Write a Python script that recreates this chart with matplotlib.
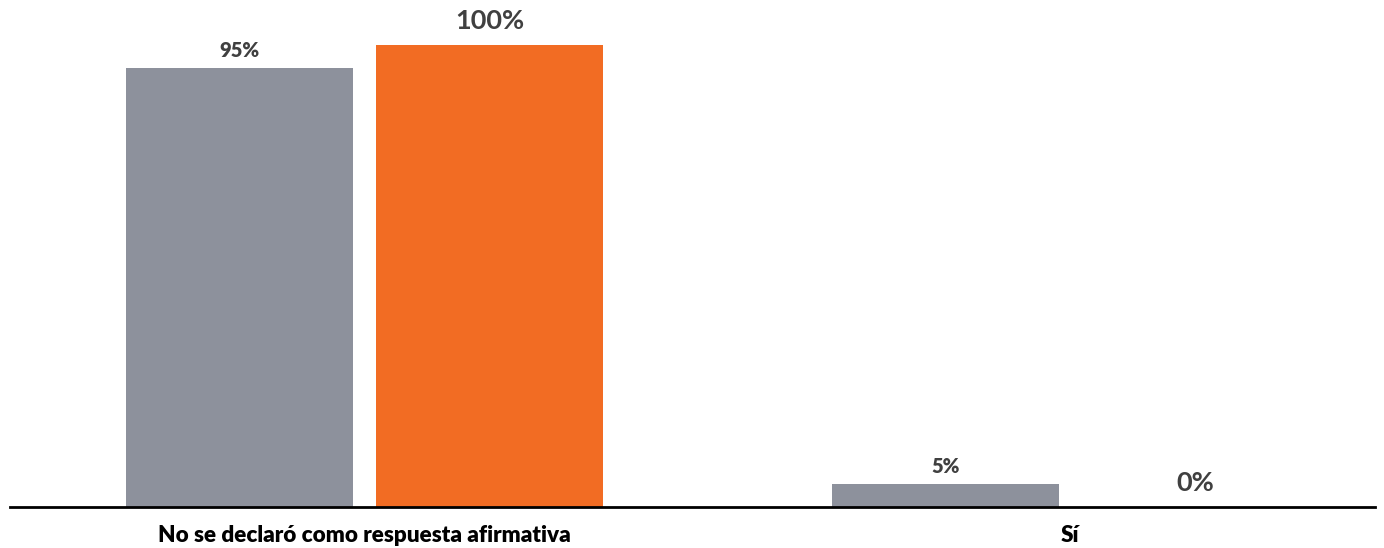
import matplotlib.pyplot as plt
import numpy as np

categories = ["No se declaró como respuesta afirmativa", "Sí"]
series_gray = [95, 5]
series_orange = [100, 0]
gray_labels = ["95%", "5%"]
orange_labels = ["100%", "0%"]

plt.rcParams['font.family'] = ['Lato', 'DejaVu Sans']

W, H = 1384, 548
fig = plt.figure(figsize=(W/100, H/100), dpi=100)
ax = fig.add_axes([10/W, 1-507/H, (1375-10)/W, 507/H])

x = np.arange(len(categories))
width = 0.322
off = 0.177
b1 = ax.bar(x - off, series_gray, width, color='#8D919C')
b2 = ax.bar(x + off, series_orange, width, color='#F26C23')

for rect, lab in zip(b1, gray_labels):
    ax.annotate(lab, (rect.get_x()+rect.get_width()/2, rect.get_height()),
                xytext=(0, 6), textcoords='offset points', ha='center', va='bottom',
                fontsize=14.5, fontweight='heavy', color='#404040')
for rect, lab in zip(b2, orange_labels):
    ax.annotate(lab, (rect.get_x()+rect.get_width()/2, rect.get_height()),
                xytext=(0, 8.5), textcoords='offset points', ha='center', va='bottom',
                fontsize=19.5, fontweight='bold', color='#404040')

ax.set_xlim(-0.5025, 1.432)
ax.set_ylim(0, 507/462*100)
for s in ['top', 'right', 'left']:
    ax.spines[s].set_visible(False)
ax.spines['bottom'].set_linewidth(2)
ax.spines['bottom'].set_color('black')
ax.set_yticks([])
ax.set_xticks(x)
ax.set_xticklabels(categories, fontsize=16.2, fontweight='heavy', color='black')
ax.tick_params(axis='x', length=0, pad=13)

fig.savefig('out.png', dpi=100)
